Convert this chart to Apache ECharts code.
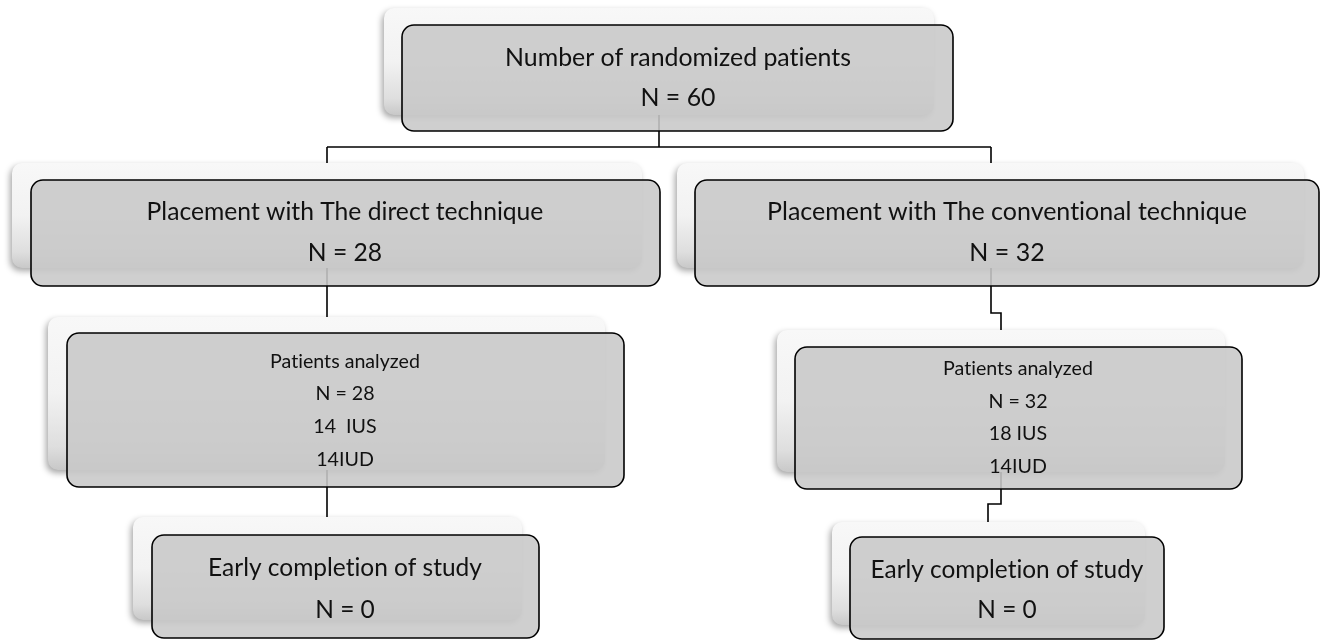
<!DOCTYPE html>
<html><head><meta charset="utf-8">
<script src="https://cdn.jsdelivr.net/npm/echarts@6/dist/echarts.min.js"></script>
<style>html,body{margin:0;padding:0;background:#fff}#c{width:1324px;height:640px}</style>
</head><body><div id="c"></div>
<script>
// ---- DATA ----
const boxTitles = [
  'Number of randomized patients',
  'Placement with The direct technique',
  'Placement with The conventional technique',
  'Patients analyzed',
  'Patients analyzed',
  'Early completion of study',
  'Early completion of study'
];
const boxCounts = [60, 28, 32, 28, 32, 0, 0];
const iusLines = ['', '', '', '14  IUS', '18 IUS', '', ''];
const iudLines = ['', '', '', '14IUD', '14IUD', '', ''];

// ---- LAYOUT (pixel space of the 1324x640 canvas) ----
const layout = [
  {shadow:[384,8,934,115],   front:[402,25,953,131],   tx:678,  rows:[58,98],             fit:346},
  {shadow:[12,163,642,268],  front:[31,180,660,286],   tx:345,  rows:[212,253],           fit:397},
  {shadow:[677,163,1304,268],front:[695,180,1319,286], tx:1007, rows:[212,253],           fit:480},
  {shadow:[48,317,605,470],  front:[67,333,624,487],   tx:345,  rows:[362,394,427,460],   fit:150},
  {shadow:[777,330,1225,472],front:[795,347,1242,489], tx:1018, rows:[369,402,434,467],   fit:150},
  {shadow:[133,517,522,620], front:[152,535,539,638],  tx:345,  rows:[568,610],           fit:274},
  {shadow:[832,522,1145,625],front:[850,537,1164,639], tx:1007, rows:[570,610],           fit:273}
];
const connectors = [
  [[659,78],[659,147]],
  [[327,147],[991,147]],
  [[327,147],[327,570]],
  [[991,147],[991,313],[1001,313],[1001,504],[988,504],[988,575]]
];

const FAMILY = 'Lato';
const mctx = document.createElement('canvas').getContext('2d');
function noLig(t){ return t.replace(/t(?=i)/g, 't\u200C').replace(/f(?=[il])/g, 'f\u200C'); }
function fitSize(text, target){
  mctx.font = '100px ' + FAMILY;
  return 100 * target / mctx.measureText(noLig(text)).width;
}

const chart = echarts.init(document.getElementById('c'), null, {renderer:'canvas'});

function rectFrom(api, b){
  const p1 = api.coord([b[0], b[1]]);
  const p2 = api.coord([b[2], b[3]]);
  return {x:Math.min(p1[0],p2[0]), y:Math.min(p1[1],p2[1]), w:Math.abs(p2[0]-p1[0]), h:Math.abs(p2[1]-p1[1])};
}

const option = {
  animation:false,
  backgroundColor:'#ffffff',
  grid:{left:0,right:0,top:0,bottom:0},
  xAxis:{type:'value',min:0,max:1324,show:false},
  yAxis:{type:'value',min:0,max:640,inverse:true,show:false},
  series:[
    {
      type:'custom', z:1, silent:true,
      data: connectors.map((c,i)=>[c[0][0], c[0][1], i]),
      renderItem:function(params, api){
        const pts = connectors[params.dataIndex].map(p=>api.coord(p));
        return {type:'polyline', shape:{points:pts}, style:{stroke:'#000', lineWidth:1.6, fill:null}};
      }
    },
    {
      type:'custom', z:2, silent:true,
      data: layout.map(l=>l.shadow.slice()),
      encode:{x:[0,2], y:[1,3]},
      renderItem:function(params, api){
        const r = rectFrom(api, [api.value(0),api.value(1),api.value(2),api.value(3)]);
        return {type:'rect', shape:{x:r.x,y:r.y,width:r.w,height:r.h,r:10},
          style:{
            fill:new echarts.graphic.LinearGradient(0,0,0,1,[
              {offset:0,color:'#f8f8f8'},{offset:0.5,color:'#f2f2f2'},
              {offset:0.85,color:'#dedede'},{offset:1,color:'#c8c8c8'}]),
            shadowBlur:6, shadowOffsetX:-2, shadowOffsetY:3, shadowColor:'rgba(0,0,0,0.35)'
          }};
      }
    },
    {
      type:'custom', z:3, silent:true,
      data: layout.map(l=>l.front.slice()),
      encode:{x:[0,2], y:[1,3]},
      renderItem:function(params, api){
        const i = params.dataIndex;
        const L = layout[i];
        const r = rectFrom(api, [api.value(0),api.value(1),api.value(2),api.value(3)]);
        const lines = [boxTitles[i], 'N = ' + boxCounts[i]];
        if (iusLines[i]) lines.push(iusLines[i]);
        if (iudLines[i]) lines.push(iudLines[i]);
        const fs = fitSize(boxTitles[i], L.fit);
        const children = [{type:'rect', shape:{x:r.x,y:r.y,width:r.w,height:r.h,r:12},
          style:{fill:'rgba(200,200,200,0.88)', stroke:'#000', lineWidth:1.6}}];
        lines.forEach((t,k)=>{
          const p = api.coord([L.tx, L.rows[k]]);
          children.push({type:'text', style:{text:noLig(t), x:p[0], y:p[1], align:'center', verticalAlign:'middle',
            fontSize:fs, fontFamily:FAMILY, fill:'#111'}});
        });
        return {type:'group', children:children};
      }
    }
  ]
};
chart.setOption(option);
</script>
</body></html>
